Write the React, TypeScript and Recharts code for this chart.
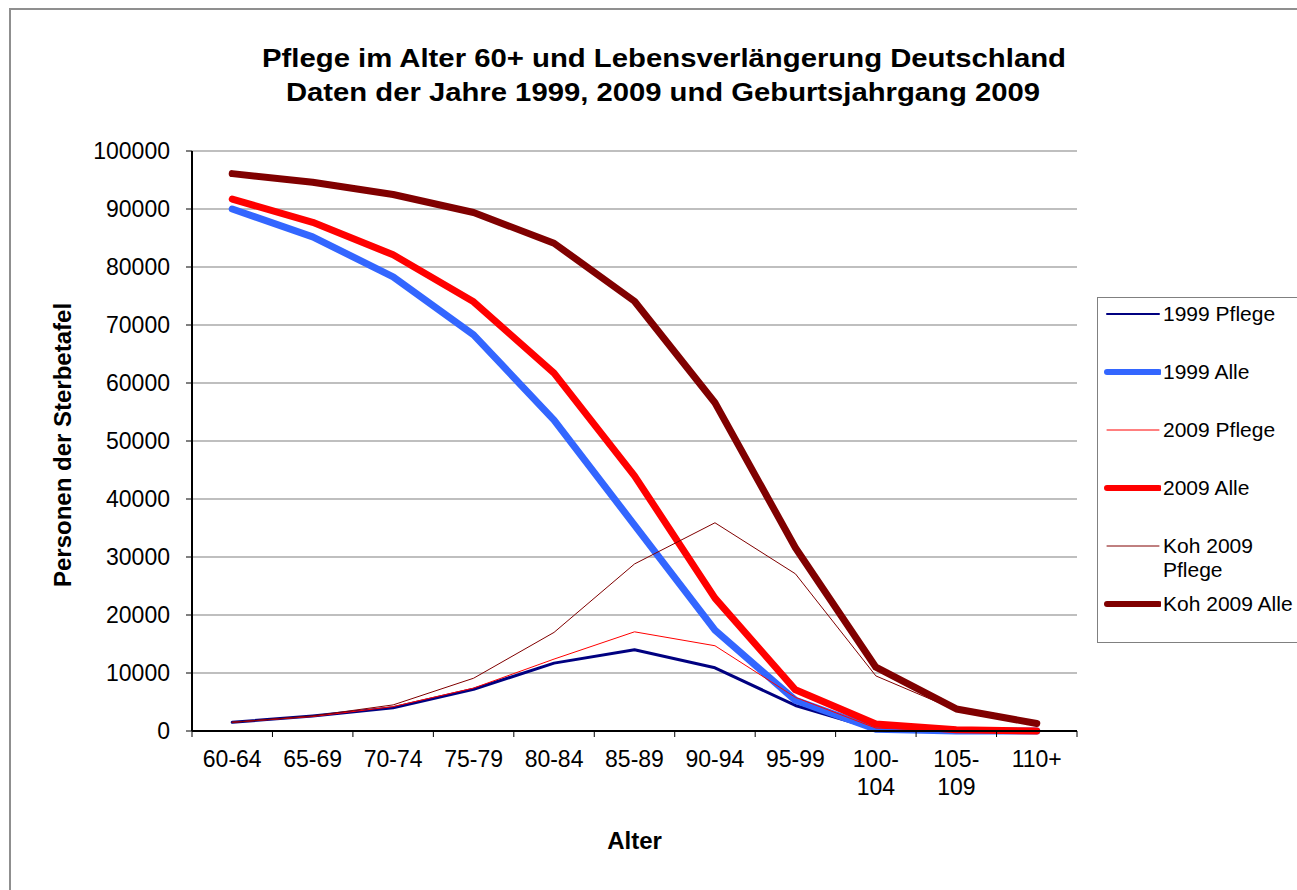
import React from 'react';
import { LineChart, Line, XAxis, YAxis, CartesianGrid, Legend, Customized } from 'recharts';

const ageGroups = ['60-64', '65-69', '70-74', '75-79', '80-84', '85-89', '90-94', '95-99', '100-104', '105-109', '110+'];
const pflege1999 = [1500, 2600, 4000, 7200, 11700, 14000, 10900, 4400, 300, 0, 0];
const alle1999 = [90000, 85200, 78300, 68300, 53600, 35500, 17400, 5300, 300, 0, 0];
const pflege2009 = [1500, 2500, 4200, 7400, 12400, 17100, 14700, 5800, 500, 0, 0];
const alle2009 = [91700, 87700, 82100, 74000, 61700, 44000, 22900, 7100, 1200, 200, 0];
const kohPflege2009 = [1500, 2600, 4500, 9100, 17000, 28800, 35900, 27100, 9500, 3600, 1200];
const kohAlle2009 = [96100, 94600, 92500, 89400, 84100, 74100, 56600, 31600, 11000, 3800, 1300];
const yTicks = [0, 10000, 20000, 30000, 40000, 50000, 60000, 70000, 80000, 90000, 100000];

const titleLines = [
  'Pflege im Alter 60+ und Lebensverlängerung Deutschland',
  'Daten der Jahre 1999, 2009 und Geburtsjahrgang 2009',
];
const xTitle = 'Alter';
const yTitle = 'Personen der Sterbetafel';

const series = [
  { key: 'p1999', name: '1999 Pflege', lines: ['1999 Pflege'], color: '#000080', width: 3, legendWidth: 2 },
  { key: 'a1999', name: '1999 Alle', lines: ['1999 Alle'], color: '#3366FF', width: 7, legendWidth: 6 },
  { key: 'p2009', name: '2009 Pflege', lines: ['2009 Pflege'], color: '#FF0000', width: 1, legendWidth: 1 },
  { key: 'a2009', name: '2009 Alle', lines: ['2009 Alle'], color: '#FF0000', width: 7, legendWidth: 6 },
  { key: 'kp2009', name: 'Koh 2009 Pflege', lines: ['Koh 2009', 'Pflege'], color: '#800000', width: 1, legendWidth: 1 },
  { key: 'ka2009', name: 'Koh 2009 Alle', lines: ['Koh 2009 Alle'], color: '#800000', width: 7, legendWidth: 6 },
];

const data = ageGroups.map((age, i) => ({
  age,
  p1999: pflege1999[i],
  a1999: alle1999[i],
  p2009: pflege2009[i],
  a2009: alle2009[i],
  kp2009: kohPflege2009[i],
  ka2009: kohAlle2009[i],
}));

const FONT = "'Liberation Sans', Arial, Helvetica, sans-serif";

const CatTick = (props: any) => {
  const { x, y, payload, index, visibleTicksCount } = props;
  const v: string = payload.value;
  const half = payload.offset || 0;
  const parts = v.length > 5 && v.includes('-') ? [v.slice(0, v.indexOf('-') + 1), v.slice(v.indexOf('-') + 1)] : [v];
  const isLast = index === visibleTicksCount - 1;
  return (
    <g>
      <line x1={x - half} y1={y} x2={x - half} y2={y + 6} stroke="#000" strokeWidth={1} />
      {isLast && <line x1={x + half} y1={y} x2={x + half} y2={y + 6} stroke="#000" strokeWidth={1} />}
      {parts.map((p, i) => (
        <text key={i} x={x} y={y + 36 + i * 28} textAnchor="middle" fontSize={23} fill="#000" fontFamily={FONT}>
          {p}
        </text>
      ))}
    </g>
  );
};

const LegendBox = () => (
  <div
    style={{
      position: 'relative',
      width: 240,
      height: 344,
      border: '1px solid #808080',
      background: '#fff',
      fontFamily: FONT,
      fontSize: 21,
      color: '#000',
    }}
  >
    {series.map((s, i) => {
      const cy = 16 + i * 58;
      return (
        <div key={s.key} style={{ position: 'absolute', left: 0, top: cy - 12, width: 240 }}>
          <svg width={60} height={24} style={{ position: 'absolute', left: 3, top: 0 }}>
            <line x1={6} y1={12} x2={58} y2={12} stroke={s.color} strokeWidth={s.legendWidth} strokeLinecap="round" />
          </svg>
          <div style={{ position: 'absolute', left: 65, top: 0, lineHeight: '24px', whiteSpace: 'nowrap' }}>
            {s.lines.map((l, j) => (
              <div key={j}>{l}</div>
            ))}
          </div>
        </div>
      );
    })}
  </div>
);

const Titles = () => (
  <g fontFamily={FONT} fontWeight="bold" fill="#000">
    <text x={664} y={67} textAnchor="middle" fontSize={25} textLength={804} lengthAdjust="spacingAndGlyphs">
      {titleLines[0]}
    </text>
    <text x={663} y={101} textAnchor="middle" fontSize={25} textLength={754} lengthAdjust="spacingAndGlyphs">
      {titleLines[1]}
    </text>
  </g>
);

export default function App() {
  return (
    <div style={{ position: 'absolute', left: 0, top: 0, width: 1297, height: 890, overflow: 'hidden', background: '#fff' }}>
      <div
        style={{
          position: 'absolute',
          left: 9,
          top: 8,
          width: 1400,
          height: 1000,
          borderLeft: '2px solid #8f8f8f',
          borderTop: '2px solid #8f8f8f',
        }}
      />
      <div style={{ position: 'absolute', left: 0, top: 0 }}>
        <LineChart
          width={1297}
          height={890}
          data={data}
          margin={{ top: 151, right: 220, bottom: 59, left: 132 }}
        >
          <CartesianGrid vertical={false} stroke="#808080" strokeWidth={1.2} />
          <XAxis
            dataKey="age"
            type="category"
            scale="band"
            height={100}
            interval={0}
            tickSize={0}
            tickMargin={0}
            tickLine={false}
            axisLine={{ stroke: '#000', strokeWidth: 2 }}
            tick={CatTick}
            label={{
              content: (p: any) => {
                const vb = p.viewBox || { x: 192, width: 885, y: 731 };
                return (
                  <text x={vb.x + vb.width / 2} y={849} textAnchor="middle" fontSize={24} fontWeight="bold" fontFamily={FONT} fill="#000">
                    {xTitle}
                  </text>
                );
              },
            }}
          />
          <YAxis
            domain={[0, 100000]}
            ticks={yTicks}
            width={60}
            tickSize={6}
            tickMargin={16}
            axisLine={{ stroke: '#000', strokeWidth: 2 }}
            tickLine={{ stroke: '#000', strokeWidth: 1 }}
            tick={{ fontSize: 23, fill: '#000', fontFamily: FONT }}
            interval={0}
            label={{
              content: (p: any) => {
                const vb = p.viewBox || { x: 132, y: 151, height: 580 };
                const cx = 71;
                const cy = vb.y + vb.height / 2 + 4;
                return (
                  <text
                    x={cx}
                    y={cy}
                    transform={`rotate(-90, ${cx}, ${cy})`}
                    textAnchor="middle"
                    fontSize={24}
                    fontWeight="bold"
                    fontFamily={FONT}
                    fill="#000"
                  >
                    {yTitle}
                  </text>
                );
              },
            }}
          />
          <YAxis
            yAxisId="right"
            orientation="right"
            domain={[0, 100000]}
            width={0}
            tick={false}
            tickLine={false}
            axisLine={{ stroke: '#808080', strokeWidth: 2 }}
          />
          {series.map((s) => (
            <Line
              key={s.key}
              type="linear"
              dataKey={s.key}
              name={s.name}
              stroke={s.color}
              strokeWidth={s.width}
              strokeLinecap="round"
              strokeLinejoin="round"
              dot={false}
              activeDot={false}
              isAnimationActive={false}
            />
          ))}
          <Legend
            layout="horizontal"
            verticalAlign="middle"
            align="center"
            content={() => <LegendBox />}
            wrapperStyle={{ position: 'absolute', left: 1097, top: 297, width: 242, height: 346, margin: 0 }}
          />
          <Customized component={Titles} />
        </LineChart>
      </div>
    </div>
  );
}
